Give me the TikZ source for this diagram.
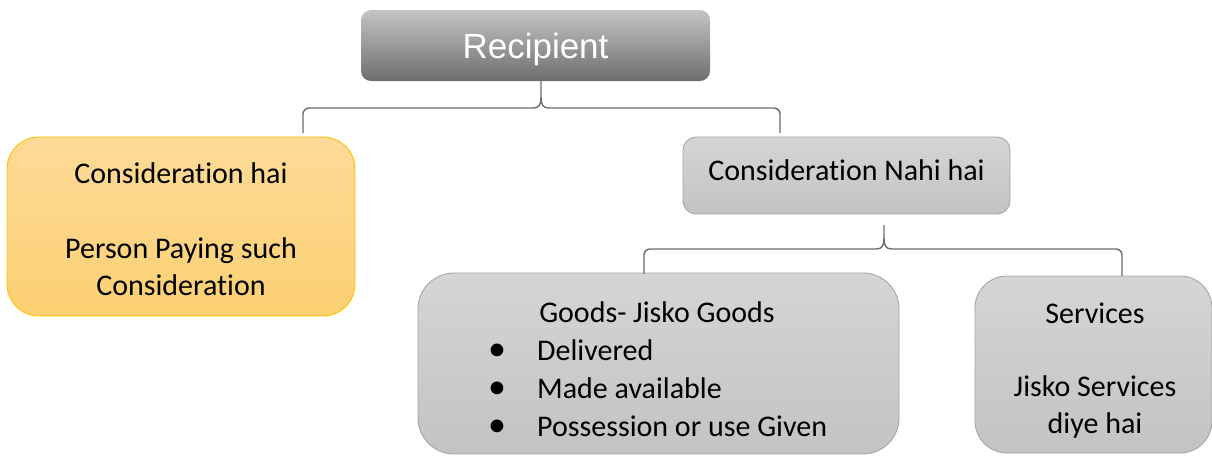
\documentclass[tikz,border=0pt]{standalone}
\usepackage{fontspec}
\setmainfont{Carlito}[RawFeature={-liga;-clig;-calt;-dlig}]
\newfontfamily\headfont{Liberation Sans}
\definecolor{orangetop}{HTML}{FDDA98}
\definecolor{orangebot}{HTML}{FCD072}
\definecolor{orangeline}{HTML}{FFC000}
\definecolor{graytop}{HTML}{D5D5D5}
\definecolor{graybot}{HTML}{C3C3C3}
\definecolor{grayline}{HTML}{A6A6A6}
% the word with the t-i pair kept apart
\newcommand\consword{Considerat\kern0pt ion}
\begin{document}
\begin{tikzpicture}[x=1pt,y=-1pt,
  boxbase/.style={anchor=north west, inner sep=0pt, outer sep=0pt, line width=0.9pt},
  graybox/.style={boxbase, draw=grayline, top color=graytop, bottom color=graybot},
  orangebox/.style={boxbase, draw=orangeline, top color=orangetop, bottom color=orangebot},
  headbox/.style={boxbase, rounded corners=10pt, top color=black!23, bottom color=black!57},
  lbl/.style={inner sep=0pt, anchor=base, font=\fontsize{30}{36}\selectfont},
  bul/.style={inner sep=0pt, anchor=base, font=\fontsize{36}{36}\selectfont},
  conn/.style={draw=black!58, line width=1.4pt}
]
\useasboundingbox (0,0) rectangle (1212,456);

% boxes
\node[headbox, minimum width=349pt, minimum height=71pt] (rec) at (361,10) {};
\node[orangebox, rounded corners=32pt, minimum width=348pt, minimum height=179pt] (cons) at (7,137) {};
\node[graybox, rounded corners=13pt, minimum width=327pt, minimum height=77pt] (nahi) at (683,137) {};
\node[graybox, rounded corners=36pt, minimum width=481pt, minimum height=181pt] (goods) at (418,273) {};
\node[graybox, rounded corners=32pt, minimum width=237pt, minimum height=177pt] (serv) at (975,276) {};

% texts
\node[inner sep=0pt, anchor=base, text=white, font=\headfont\fontsize{35}{40}\selectfont] (trec) at (535.5,58) {Recipient};

\node[lbl] (tc1) at (181,183) {\consword{} hai};
\node[lbl] (tc2) at (181,258) {Person Paying such};
\node[lbl] (tc3) at (181,295) {\consword};

\node[lbl] (tn) at (846.5,180) {\consword{} Nahi hai};

\node[lbl] (tg0) at (657,322) {Goods- Jisko Goods};
\node[bul] (bg1) at (497,360) {•};
\node[bul] (bg2) at (497,398) {•};
\node[bul] (bg3) at (497,436) {•};
\node[lbl, anchor=base west] (tg1) at (537,360) {Delivered};
\node[lbl, anchor=base west] (tg2) at (537,398) {Made available};
\node[lbl, anchor=base west] (tg3) at (537,436) {Possession or use Given};

\node[lbl] (ts1) at (1095,323) {Services};
\node[lbl] (ts2) at (1095,396) {Jisko Services};
\node[lbl] (ts3) at (1095,433) {diye hai};

% brace joining Recipient to its two branches
\coordinate (b1l) at (303,133);
\coordinate (b1r) at (780,133);
\draw[conn] (b1l) [rounded corners=6pt] -- (303,108) [sharp corners] -- (533,108)
  .. controls (539,108) and (541,105) .. (541,97) -- ([xshift=5.5pt]rec.south);
\draw[conn] (b1r) [rounded corners=6pt] -- (780,108) [sharp corners] -- (549,108)
  .. controls (543,108) and (541,105) .. (541,97);

% brace joining the second branch to Goods and Services
\coordinate (b2l) at (644,274);
\coordinate (b2r) at (1122,276);
\coordinate (b2t) at (884,225);
\draw[conn] (b2l) [rounded corners=6pt] -- (644,249) [sharp corners] -- (876,249)
  .. controls (882,249) and (884,246) .. (884,238) -- (b2t);
\draw[conn] (b2r) [rounded corners=6pt] -- (1122,249) [sharp corners] -- (892,249)
  .. controls (886,249) and (884,246) .. (884,238);
\end{tikzpicture}
\end{document}
